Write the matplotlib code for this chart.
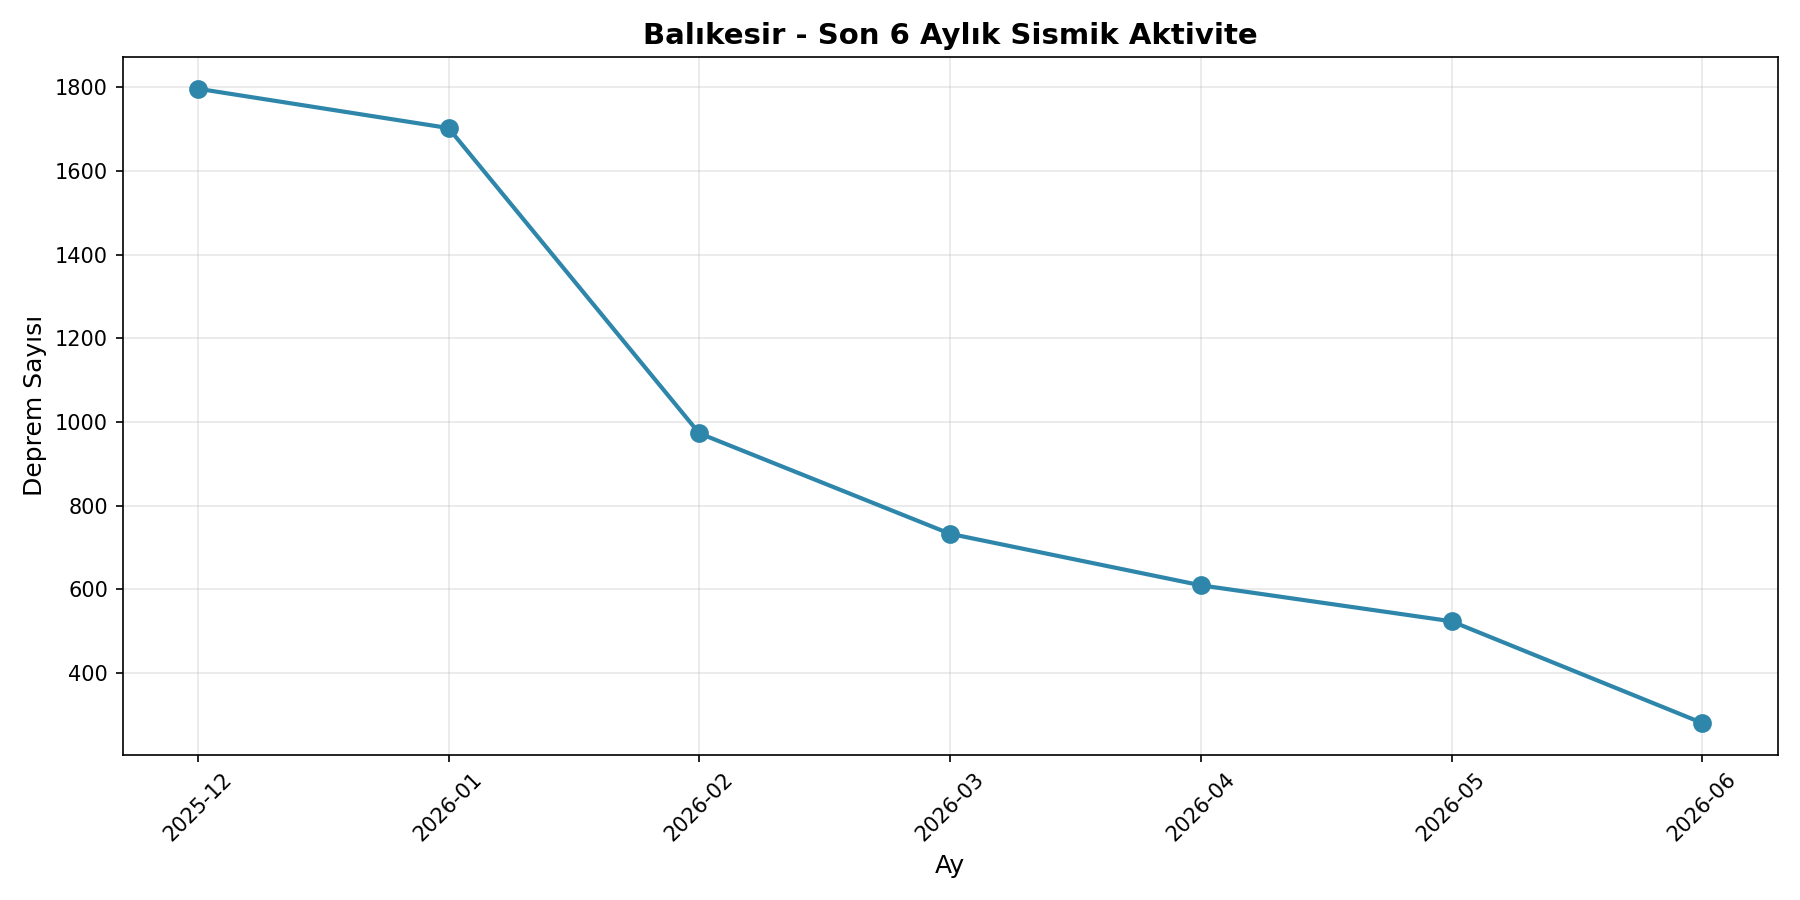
import matplotlib
matplotlib.use('Agg')
import matplotlib.pyplot as plt

# aylık deprem sayıları
months = ['2025-12', '2026-01', '2026-02', '2026-03', '2026-04', '2026-05', '2026-06']
counts = [1796, 1702, 973, 733, 610, 524, 281]

fig, ax = plt.subplots(figsize=(12, 6), dpi=150)
ax.plot(months, counts, marker='o', linewidth=2, markersize=8, color='#2E86AB')

ax.set_title('Balıkesir - Son 6 Aylık Sismik Aktivite', fontsize=14, fontweight='bold')
ax.set_xlabel('Ay', fontsize=12)
ax.set_ylabel('Deprem Sayısı', fontsize=12)
ax.grid(True, alpha=0.3)
plt.xticks(rotation=45)

plt.tight_layout()
plt.savefig('out.png', dpi=150)
